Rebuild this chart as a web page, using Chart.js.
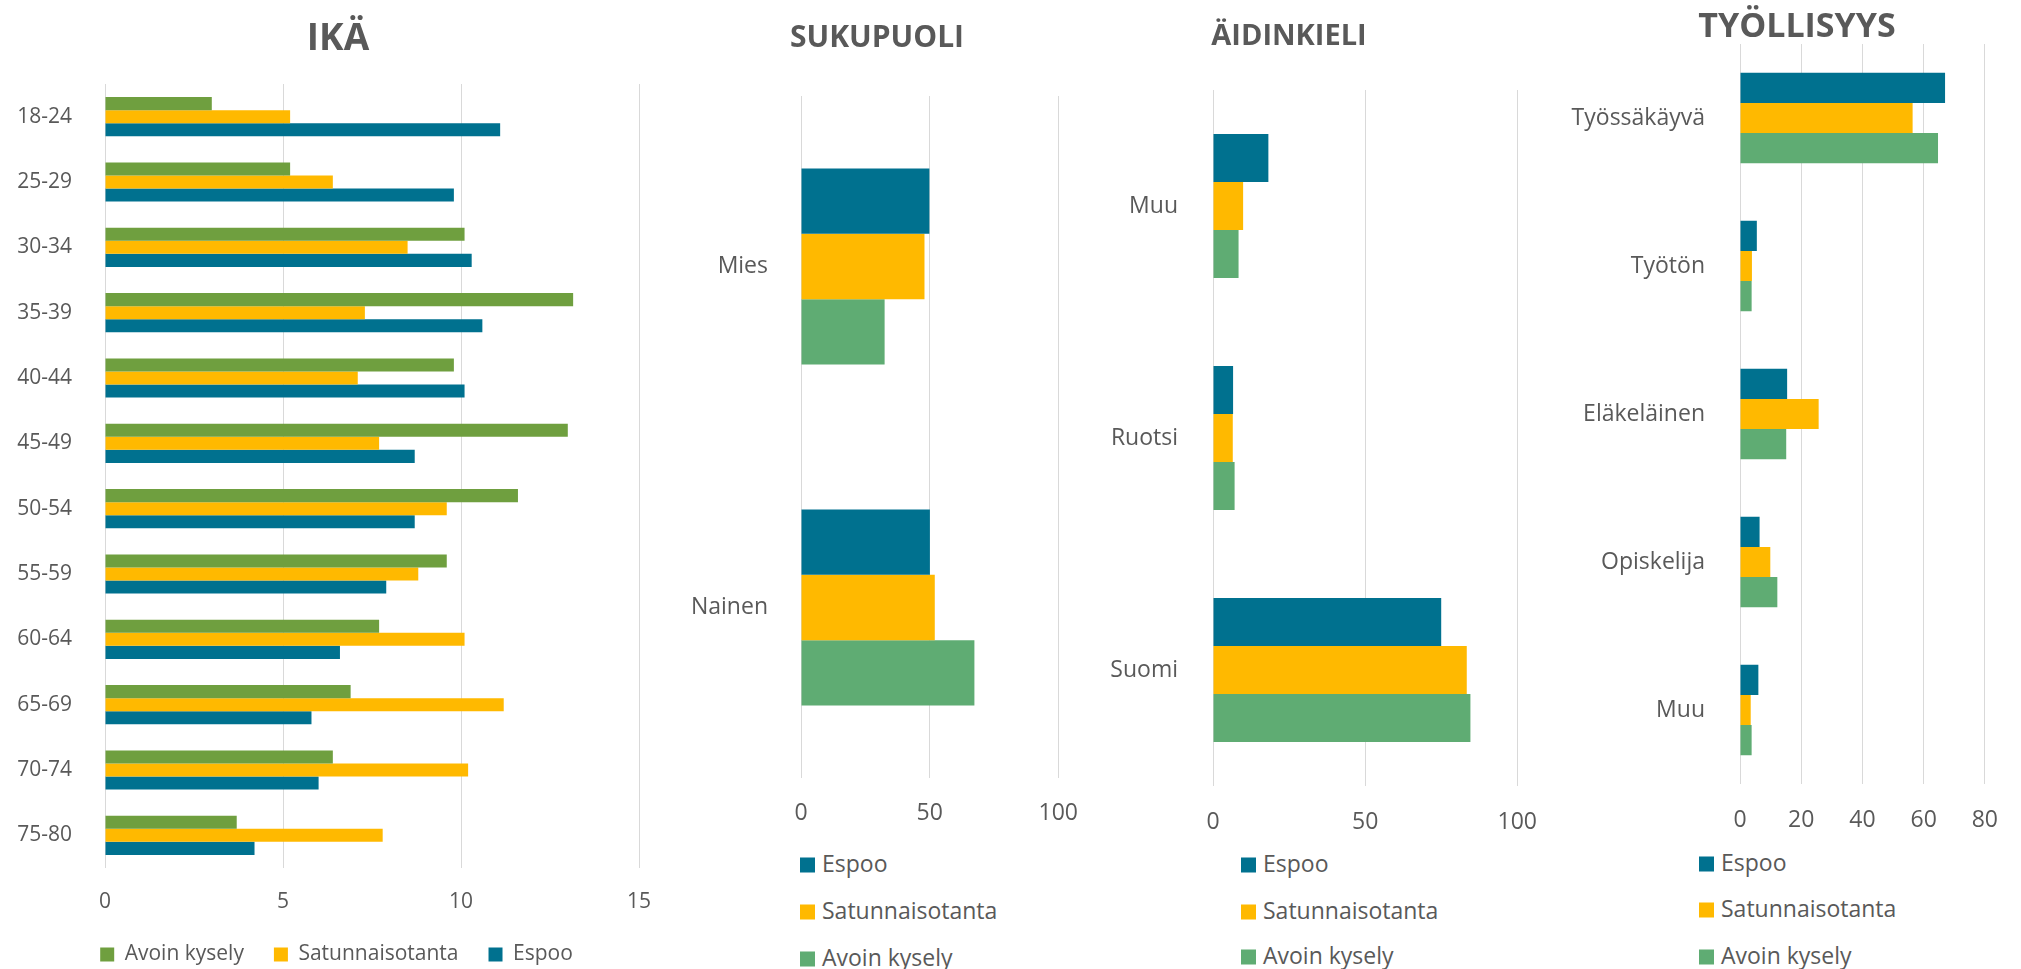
<!DOCTYPE html>
<html>
<head>
<meta charset="utf-8">
<script src="https://cdn.jsdelivr.net/npm/chart.js@4.4.1/dist/chart.umd.min.js"></script>
<style>
  html, body { margin: 0; padding: 0; background: #fff; overflow: hidden; }
  #page { position: relative; width: 2021px; height: 969px; }
  canvas { position: absolute; top: 0; }
  .title { position: absolute; font-family: 'Open Sans'; font-weight: 700; color: #595959;
           white-space: nowrap; line-height: 1; transform: translate(-50%, -50%); }
  .legend { position: absolute; font-family: 'Open Sans'; font-size: 23px; color: #595959; }
  .legend div { position: absolute; left: 0; white-space: nowrap; line-height: 1; transform: translateY(-50%); }
  .legend span { display: inline-block; width: 15px; height: 15px; margin-right: 7px; vertical-align: -1px; }
</style>
</head>
<body>
<div id="page">
  <canvas id="ika"></canvas>
  <canvas id="sukupuoli"></canvas>
  <canvas id="aidinkieli"></canvas>
  <canvas id="tyollisyys"></canvas>
</div>
<script>
  // series names and colours
  var seriesNames = ['Espoo', 'Satunnaisotanta', 'Avoin kysely'];
  var blue = '#00718f';
  var yellow = '#ffb900';
  var greenAge = '#6f9f3f';
  var green = '#5fac73';

  // IKÄ (%)
  var ageLabels = ['18-24', '25-29', '30-34', '35-39', '40-44', '45-49', '50-54', '55-59', '60-64', '65-69', '70-74', '75-80'];
  var ageAvoin = [3.0, 5.2, 10.1, 13.15, 9.8, 13.0, 11.6, 9.6, 7.7, 6.9, 6.4, 3.7];
  var ageSatunnainen = [5.2, 6.4, 8.5, 7.3, 7.1, 7.7, 9.6, 8.8, 10.1, 11.2, 10.2, 7.8];
  var ageEspoo = [11.1, 9.8, 10.3, 10.6, 10.1, 8.7, 8.7, 7.9, 6.6, 5.8, 6.0, 4.2];

  // SUKUPUOLI (%)
  var genderLabels = ['Mies', 'Nainen'];
  var genderEspoo = [49.9, 50.1];
  var genderSatunnainen = [48.0, 52.0];
  var genderAvoin = [32.5, 67.4];

  // ÄIDINKIELI (%)
  var langLabels = ['Muu', 'Ruotsi', 'Suomi'];
  var langEspoo = [18.2, 6.6, 75.0];
  var langSatunnainen = [9.9, 6.5, 83.4];
  var langAvoin = [8.4, 7.1, 84.6];

  // TYÖLLISYYS (%)
  var jobLabels = ['Työssäkäyvä', 'Työtön', 'Eläkeläinen', 'Opiskelija', 'Muu'];
  var jobEspoo = [67.0, 5.5, 15.4, 6.4, 6.0];
  var jobSatunnainen = [56.4, 3.9, 25.7, 9.9, 3.5];
  var jobAvoin = [64.7, 3.8, 15.1, 12.2, 3.8];

  var gray = '#595959';
  var gridColor = '#d9d9d9';

  var addTitle = function(text, x, y, size) {
    var el = document.createElement('div');
    el.className = 'title';
    el.textContent = text;
    el.style.left = x + 'px';
    el.style.top = y + 'px';
    el.style.fontSize = size + 'px';
    document.getElementById('page').appendChild(el);
  }

  var addLegend = function(x, rows, colors) {
    var box = document.createElement('div');
    box.className = 'legend';
    box.style.left = x + 'px';
    box.style.top = '0px';
    for (var i = 0; i < seriesNames.length; i++) {
      var row = document.createElement('div');
      row.style.top = rows[i] + 'px';
      var sq = document.createElement('span');
      sq.style.background = colors[i];
      row.appendChild(sq);
      row.appendChild(document.createTextNode(seriesNames[i]));
      box.appendChild(row);
    }
    document.getElementById('page').appendChild(box);
  }

  var makeSets = function(names, values, colors, catPct) {
    return names.map(function(n, i) {
      return {
        label: n,
        data: values[i],
        backgroundColor: colors[i],
        borderWidth: 0,
        categoryPercentage: catPct,
        barPercentage: 1
      };
    });
  }

  // moves the legend sideways after layout (legend is centred over the chart otherwise)
  var legendShift = {
    id: 'legendShift',
    afterLayout: function(chart, args, opts) {
      if (chart.legend && opts.dx) {
        chart.legend.left += opts.dx;
        chart.legend.right += opts.dx;
      }
    }
  };

  var barChart = function(id, c) {
    var canvas = document.getElementById(id);
    canvas.width = c.w;
    canvas.height = c.h;
    canvas.style.left = c.left + 'px';
    var font = { family: c.family, size: c.size };
    return new Chart(canvas.getContext('2d'), {
      type: 'bar',
      data: { labels: c.labels, datasets: c.datasets },
      plugins: [legendShift],
      options: {
        indexAxis: 'y',
        responsive: false,
        animation: false,
        layout: { padding: c.padding },
        plugins: {
          title: { display: false },
          tooltip: { enabled: false },
          legend: c.legend || { display: false },
          legendShift: { dx: c.legendDx || 0 }
        },
        scales: {
          x: {
            min: 0,
            max: c.max,
            ticks: { stepSize: c.step, font: font, color: gray, padding: c.xPad },
            grid: { color: gridColor, lineWidth: 1, drawTicks: false },
            border: { display: false },
            afterFit: function(s) { s.height = c.xh; }
          },
          y: {
            grid: { display: false },
            border: { display: false },
            ticks: { font: font, color: gray, padding: c.yPad },
            afterFit: function(s) { s.width = c.yw; }
          }
        }
      }
    });
  }

  // IKÄ: legend order Avoin kysely, Satunnaisotanta, Espoo
  barChart('ika', {
    left: 0, w: 680, h: 975,
    padding: { left: 0, right: 41, top: 84, bottom: 0 },
    yw: 105, xh: 46, xPad: 21, yPad: 25,
    family: 'Open Sans', size: 21,
    max: 15, step: 5,
    labels: ageLabels,
    datasets: makeSets(['Avoin kysely', 'Satunnaisotanta', 'Espoo'],
      [ageAvoin, ageSatunnainen, ageEspoo], [greenAge, yellow, blue], 0.6),
    legend: {
      display: true,
      position: 'bottom',
      labels: { boxWidth: 14, boxHeight: 14, padding: 30, color: gray,
                font: { family: 'Open Sans', size: 21 } }
    },
    legendDx: 17
  });

  barChart('sukupuoli', {
    left: 680, w: 420, h: 828,
    padding: { left: 0, right: 34, top: 96, bottom: 0 },
    yw: 121, xh: 50, xPad: 22, yPad: 25,
    family: 'Open Sans', size: 23,
    max: 100, step: 50,
    labels: genderLabels,
    datasets: makeSets(seriesNames, [genderEspoo, genderSatunnainen, genderAvoin], [blue, yellow, green], 0.575)
  });

  barChart('aidinkieli', {
    left: 1090, w: 470, h: 836,
    padding: { left: 0, right: 36, top: 90, bottom: 0 },
    yw: 123, xh: 50, xPad: 23, yPad: 27,
    family: 'Open Sans', size: 23,
    max: 100, step: 50,
    labels: langLabels,
    datasets: makeSets(seriesNames, [langEspoo, langSatunnainen, langAvoin], [blue, yellow, green], 0.62)
  });

  barChart('tyollisyys', {
    left: 1560, w: 461, h: 834,
    padding: { left: 0, right: 31, top: 44, bottom: 0 },
    yw: 180, xh: 50, xPad: 23, yPad: 27,
    family: 'Open Sans', size: 23,
    max: 80, step: 20,
    labels: jobLabels,
    datasets: makeSets(seriesNames, [jobEspoo, jobSatunnainen, jobAvoin], [blue, yellow, green], 0.61)
  });

  addTitle('IKÄ', 338, 35, 37);
  addTitle('SUKUPUOLI', 877, 36, 30);
  addTitle('ÄIDINKIELI', 1289, 33, 29);
  addTitle('TYÖLLISYYS', 1797, 24, 34);

  addLegend(800, [863, 910, 957], [blue, yellow, green]);
  addLegend(1241, [863, 910, 955], [blue, yellow, green]);
  addLegend(1699, [862, 908, 955], [blue, yellow, green]);
</script>
</body>
</html>
